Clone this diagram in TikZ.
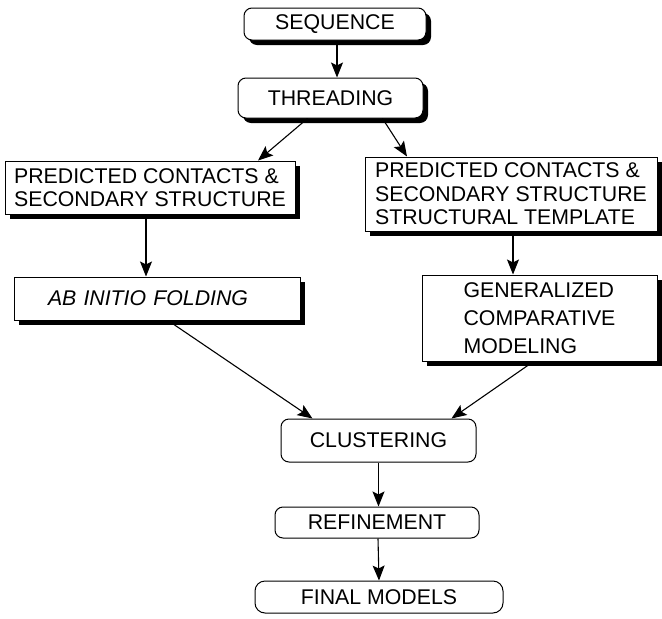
\documentclass[tikz,border=0pt]{standalone}
\usepackage{fontspec}
\setmainfont{Liberation Sans}
\usepackage{tikz}
\usetikzlibrary{shapes,arrows,positioning,calc,shadows,arrows.meta}

\begin{document}
\begin{tikzpicture}[x=1pt, y=-1pt,
    font=\fontsize{21.3}{23.5}\selectfont,
    box/.style={draw, line width=1pt, fill=white, inner sep=3pt},
    roundbox/.style={box, rounded corners=8pt},
    shade/.style={drop shadow={shadow xshift=5pt, shadow yshift=-5pt, fill=black, opacity=1}},
    flow/.style={line width=1.1pt, -{Stealth[length=15pt, width=12pt, inset=3pt]}}]
    \useasboundingbox (0,0) rectangle (662,619);
    % top of the pipeline
    \node[roundbox, shade, minimum width=182pt, minimum height=32pt] (seq) at (335,24) {SEQUENCE};
    \node[roundbox, shade, minimum width=185pt, minimum height=40pt] (thread) at (330.5,98) {THREADING};
    % two branches
    \node[box, shade, align=left, minimum width=290pt, minimum height=53pt] (predL) at (150,187.5)
        {PREDICTED CONTACTS \&\\SECONDARY STRUCTURE};
    \node[box, shade, align=left, minimum width=292pt, minimum height=74pt] (predR) at (511,194)
        {PREDICTED CONTACTS \&\\SECONDARY STRUCTURE\\STRUCTURAL TEMPLATE};
    \node[box, shade, align=left, text width=218pt, inner xsep=34pt, minimum height=43pt] (abinit) at (157,298.5)
        {\itshape AB INITIO FOLDING};
    \node[box, shade, align=left, font=\fontsize{21.3}{28}\selectfont, minimum width=235pt, minimum height=86pt] (gcm) at (539.5,318)
        {GENERALIZED\\COMPARATIVE\\MODELING};
    % bottom of the pipeline
    \node[roundbox, minimum width=195pt, minimum height=43pt] (clust) at (378.5,440.5) {CLUSTERING};
    \node[roundbox, minimum width=204pt, minimum height=31pt] (refine) at (377,522.5) {REFINEMENT};
    \node[roundbox, rounded corners=10pt, minimum width=248pt, minimum height=32pt] (final) at (379,597) {FINAL MODELS};

    \draw[flow] ([xshift=2pt]seq.south) -- ([xshift=6.5pt]thread.north);
    \draw[flow] ([xshift=-23pt]thread.south) -- ([xshift=108pt]predL.north);
    \draw[flow] ([xshift=52pt]thread.south) -- ([xshift=-104pt]predR.north);
    \draw[flow] ([xshift=-4pt]predL.south) -- ([xshift=-11pt]abinit.north);
    \draw[flow] ([xshift=2pt]predR.south) -- ([xshift=-26.5pt]gcm.north);
    \draw[flow] ([xshift=11pt]abinit.south) -- ([xshift=-66pt]clust.north);
    \draw[flow] ([xshift=-6pt]gcm.south) -- ([xshift=73pt]clust.north);
    \draw[flow] (clust.south) -- ([xshift=1.5pt]refine.north);
    \draw[flow] ([xshift=1pt]refine.south) -- (final.north);
\end{tikzpicture}
\end{document}
